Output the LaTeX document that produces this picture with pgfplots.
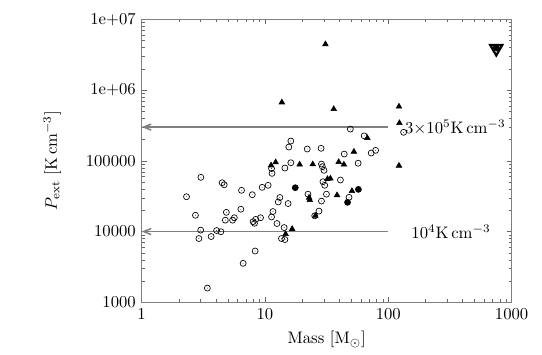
\documentclass[border=0pt]{standalone}
\usepackage{pgfplots}
\pgfplotsset{compat=1.18}
\usetikzlibrary{arrows.meta}

% open circle with a dot in the middle, as gnuplot draws it
\pgfdeclareplotmark{odot}{%
  \pgfpathcircle{\pgfpointorigin}{\pgfplotmarksize}\pgfusepathqstroke
  \pgfpathcircle{\pgfpointorigin}{0.25pt}\pgfusepathqfill}

\begin{document}
\begin{tikzpicture}
\path[use as bounding box] (-85pt,-31pt) rectangle (240.2pt,181.4pt);
\begin{axis}[
    xmode=log, ymode=log,
    scale only axis, width=222pt, height=169.8pt,
    xmin=1, xmax=1000, ymin=1000, ymax=1e7,
    xtick={1,10,100,1000}, xticklabels={1,10,100,1000},
    minor xtick={2,3,4,5,6,7,8,9,20,30,40,50,60,70,80,90,200,300,400,500,600,700,800,900},
    ytick={1000,10000,100000,1000000,10000000},
    yticklabels={1000,10000,100000,1e+06,1e+07},
    minor ytick={2000,3000,4000,5000,6000,7000,8000,9000,
      20000,30000,40000,50000,60000,70000,80000,90000,
      200000,300000,400000,500000,600000,700000,800000,900000,
      2e6,3e6,4e6,5e6,6e6,7e6,8e6,9e6},
    tick align=inside, major tick length=3pt, minor tick length=1.8pt,
    axis line style={black!50, line width=0.9pt},
    tick style={black!60},
    xlabel={Mass [M$_\odot$]},
    ylabel={$P_\mathrm{ext}$ [K\,cm$^{-3}$]},
    ylabel style={at={(axis description cs:-0.242,0.5)}, anchor=center},
    clip=false
]
% pressure levels
\addplot[black!50, line width=0.9pt, -{Straight Barb[length=4.5pt,width=3.6pt]}]
  coordinates {(100,3e5) (1,3e5)};
\addplot[black!50, line width=0.9pt, -{Straight Barb[length=4.5pt,width=3.6pt]}]
  coordinates {(100,1e4) (1,1e4)};
\node[anchor=west, inner sep=0pt] at (axis cs:136,3e5) {$3{\times}10^5$K\,cm$^{-3}$};
\node[anchor=west, inner sep=0pt] at (axis cs:153,1e4) {$10^4$K\,cm$^{-3}$};

% open circles
\addplot[only marks, mark=odot, mark size=1.8pt, black, line width=0.4pt] coordinates {
 (2.31,31100) (3.02,58500) (2.73,17000) (3.01,10500) (2.91,7980)
 (3.66,8510) (4.05,10350) (4.39,9950) (4.49,49000) (4.67,45900)
 (4.86,18700) (4.77,14500) (5.46,14500) (5.64,15700) (6.37,20700)
 (6.45,38300) (6.65,3560) (3.41,1590) (7.89,33200) (8.32,5310)
 (8.01,13800) (8.42,14900) (8.22,13100) (9.20,15700) (9.48,42200)
 (10.6,45100) (11.4,66500) (11.3,77800) (11.6,19200) (11.3,16100)
 (12.5,13000) (13.2,30300) (12.8,26200) (14.3,11400) (15.4,24900)
 (13.6,7980) (14.5,7720) (14.5,79100) (16.2,94000) (16.2,190600)
 (15.6,156600) (22.0,146900) (28.5,150300) (28.7,90100) (29.2,82600)
 (30.1,73400) (29.5,50700) (30.5,45100) (40.9,53600) (31.5,33800)
 (22.3,33800) (28.7,27000) (27.4,19500) (25.3,16700) (48.0,30500)
 (43.9,124700) (56.9,92500) (49.2,281000) (63.7,225300) (72.6,128900)
 (78.9,140600) (133,253000)
};

% filled triangles
\addplot[only marks, mark=triangle*, mark size=1.9pt, black] coordinates {
 (30.9,4.44e6) (13.7,671000) (36.1,539000) (122,585000) (123,342000)
 (122,85300) (67.6,210000) (52.6,134600) (39.6,96200) (43.6,88700)
 (24.4,89300) (19.1,88700) (12.2,95500) (11.2,86300) (32.1,55400)
 (33.9,56200) (38.4,32700) (22.8,30100) (23.1,27900) (25.6,16700)
 (50.7,37400) (16.6,10900) (14.7,9220)
};

% filled circles
\addplot[only marks, mark=*, mark size=1.8pt, black] coordinates {
 (17.6,41700) (57.2,39500) (46.7,25900)
};

% the large object at top right
\addplot[only marks, mark=triangle, mark size=4.2pt, line width=1.3pt, black,
  mark options={rotate=180, fill=white}] coordinates {(750,3.87e6)};
\addplot[only marks, mark=*, mark size=1.9pt, black] coordinates {(750,3.95e6)};
\end{axis}
\end{tikzpicture}
\end{document}
